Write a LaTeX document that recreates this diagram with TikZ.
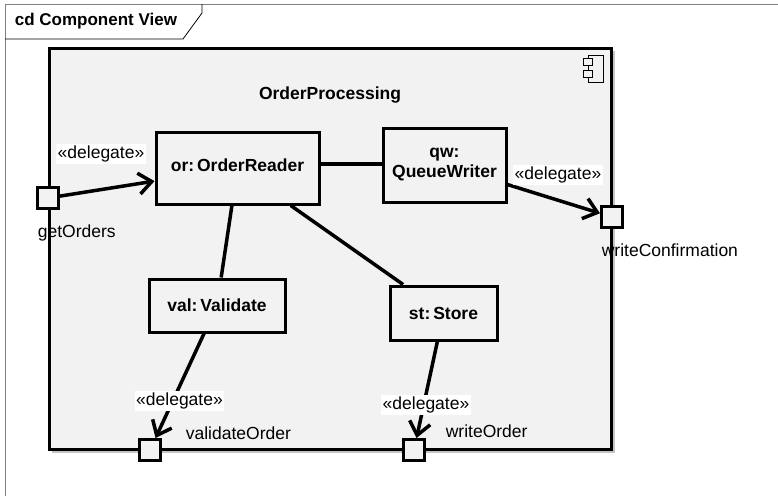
\documentclass[tikz,border=0pt]{standalone}
\usepackage{fontspec}
\setmainfont{Liberation Sans}
\usepackage{xcolor}
\usetikzlibrary{positioning}
\usetikzlibrary{arrows.meta}
\definecolor{partfill}{HTML}{F2F2F2}
\definecolor{shadowgray}{HTML}{C4C4C4}

\begin{document}
\begin{tikzpicture}[x=1pt, y=-1pt, >={Straight Barb[length=13pt,width=21pt]}, line width=3pt, font=\fontsize{17.5}{20}\selectfont]
    \tikzstyle{part}=[draw=black,rectangle,fill=partfill,inner sep=0pt,align=center,font=\fontsize{17.5}{20}\selectfont\bfseries]
    \tikzstyle{port}=[draw=black,rectangle,fill=partfill,minimum size=21pt,inner sep=0pt]
    \tikzstyle{stereo}=[fill=white,inner sep=1.5pt]
    \tikzstyle{conn}=[draw=black,line width=3.5pt]

    \useasboundingbox (0,0) rectangle (778,496);

    % diagram frame
    \draw[line width=1pt, draw=gray] (778,4) -- (5,4) -- (5,496);
    \draw[line width=0.8pt] (5,39) -- (183,39) -- (202,13) -- (202,4);
    \node[anchor=west, font=\fontsize{17}{20}\selectfont\bfseries] (title) at (10,21) {cd Component View};

    % component
    \fill[shadowgray] (52,51) rectangle (615,453);
    \node[draw=black, rectangle, fill=partfill, minimum width=562pt, minimum height=401pt, inner sep=0pt] (op) at (330,248.5) {};
    \node[font=\fontsize{17.5}{20}\selectfont\bfseries] (opname) at (330,95) {OrderProcessing};
    \draw[line width=0.8pt] (588,55) rectangle (603,82);
    \draw[line width=0.8pt, fill=partfill] (583,58) rectangle (592,65);
    \draw[line width=0.8pt, fill=partfill] (583,70) rectangle (592,77);

	\node[part, minimum width=163pt, minimum height=72pt] (or) at (237.5,168) {\raisebox{6pt}{or:\,OrderReader}};
	\node[part, minimum width=123pt, minimum height=74pt] (qw) at (444.5,165) {qw:\\QueueWriter};
	\node[part, minimum width=136pt, minimum height=53pt] (val) at (217,305.5) {val:\,Validate};
	\node[part, minimum width=107pt, minimum height=54pt] (st) at (443.5,313) {st:\,Store};

	\node[port] (go) at (48,198) {};
	\node[port] (wc) at (612,217) {};
	\node[port] (vo) at (150,450) {};
	\node[port] (wo) at (414,450) {};

    \path[conn] ([yshift=4pt]or.east) edge ([yshift=4pt]or.east -| qw.west);
    \path[conn] (or) edge (val);
    \path[conn] (or) edge (st);
    \path[conn] (go) edge[->] (or);
    \path[conn] (qw) edge[->] (wc);
    \path[conn] (val) edge[->] (vo);
    \path[conn] (st) edge[->] (wo);

    \node[stereo] at (101,154) {«delegate»};
    \node[stereo] at (558,175) {«delegate»};
    \node[stereo] at (179.5,401) {«delegate»};
    \node[stereo] at (426,405) {«delegate»};

    \node[below right=10pt and -27pt of go] {getOrders};
    \node[below right=10pt and -27pt of wc] {writeConfirmation};
    \node[above right=-6pt and 19pt of vo] {validateOrder};
    \node[above right=-4pt and 15pt of wo] {writeOrder};
\end{tikzpicture}
\end{document}
